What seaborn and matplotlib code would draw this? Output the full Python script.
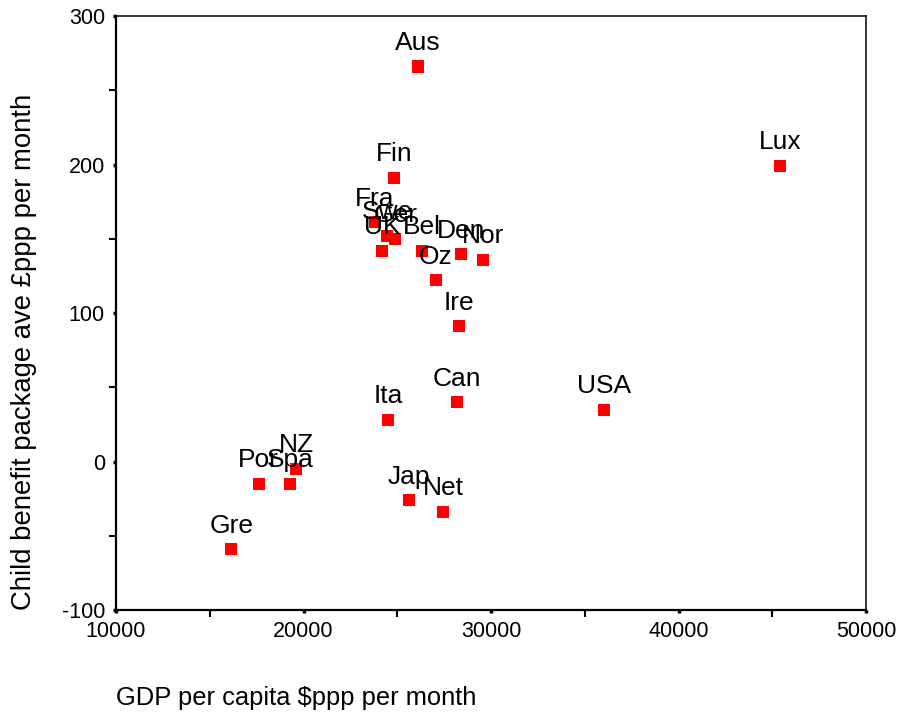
import pandas as pd
import matplotlib
matplotlib.use("Agg")
import matplotlib.pyplot as plt
import seaborn as sns
from matplotlib.ticker import MultipleLocator

# Data
countries = ["Aus", "Lux", "Fin", "Fra", "Swe", "Ger", "UK", "Bel", "Den", "Nor",
             "Oz", "Ire", "Can", "Ita", "USA", "NZ", "Por", "Spa", "Jap", "Net", "Gre"]
gdp = [26100, 45400, 24850, 23800, 24450, 24900, 24200, 26300, 28400, 29550,
       27050, 28300, 28200, 24500, 36050, 19600, 17600, 19300, 25600, 27450, 16150]
benefit = [266, 199, 191, 161, 152, 150, 142, 142, 139.5, 136,
           122, 91, 40, 28, 35, -5, -15, -15, -26, -34, -59]

df = pd.DataFrame({"country": countries, "gdp": gdp, "benefit": benefit})

sns.set_style("white")
plt.rcParams["font.family"] = ["Liberation Sans", "DejaVu Sans"]
plt.rcParams["axes.unicode_minus"] = False
plt.rcParams["text.color"] = "black"
plt.rcParams["axes.labelcolor"] = "black"
plt.rcParams["xtick.color"] = "black"
plt.rcParams["ytick.color"] = "black"

fig = plt.figure(figsize=(8.98, 7.18), dpi=100)
ax = fig.add_axes([0.1292, 0.1504, 0.8352, 0.8273])

sns.scatterplot(data=df, x="gdp", y="benefit", marker="s", s=75,
                color="#ff0000", edgecolor="none", linewidth=0, ax=ax, zorder=3)

for name, xv, yv in zip(countries, gdp, benefit):
    ax.annotate(name, (xv, yv), xytext=(0, 17), textcoords="offset points",
                ha="center", va="center", fontsize=19, color="black")

ax.set_xlim(10000, 50000)
ax.set_ylim(-100, 300)
ax.xaxis.set_major_locator(MultipleLocator(10000))
ax.xaxis.set_minor_locator(MultipleLocator(5000))
ax.yaxis.set_major_locator(MultipleLocator(100))
ax.yaxis.set_minor_locator(MultipleLocator(50))
ax.tick_params(which="major", length=2, width=2.5, labelsize=15.5, pad=6,
               color="black", labelcolor="black")
ax.tick_params(which="minor", length=5, width=1.5, color="black")
ax.tick_params(axis="x", which="both", bottom=True)
ax.tick_params(axis="y", which="both", left=True)

for side in ["left", "bottom"]:
    ax.spines[side].set_linewidth(1.6)
    ax.spines[side].set_color("black")
for side in ["top", "right"]:
    ax.spines[side].set_linewidth(1.1)
    ax.spines[side].set_color("black")

ax.set_xlabel("GDP per capita $ppp per month", fontsize=18.4, color="black")
ax.xaxis.set_label_coords(0.0, -0.148)
ax.xaxis.label.set_ha("left")
ax.xaxis.label.set_va("center")

ax.set_ylabel("Child benefit package ave £ppp per month", fontsize=19.8, color="black")
ax.yaxis.set_label_coords(-0.105, 0.0)
ax.yaxis.label.set_ha("left")
ax.yaxis.label.set_va("bottom")

fig.savefig("out.png", dpi=100)
